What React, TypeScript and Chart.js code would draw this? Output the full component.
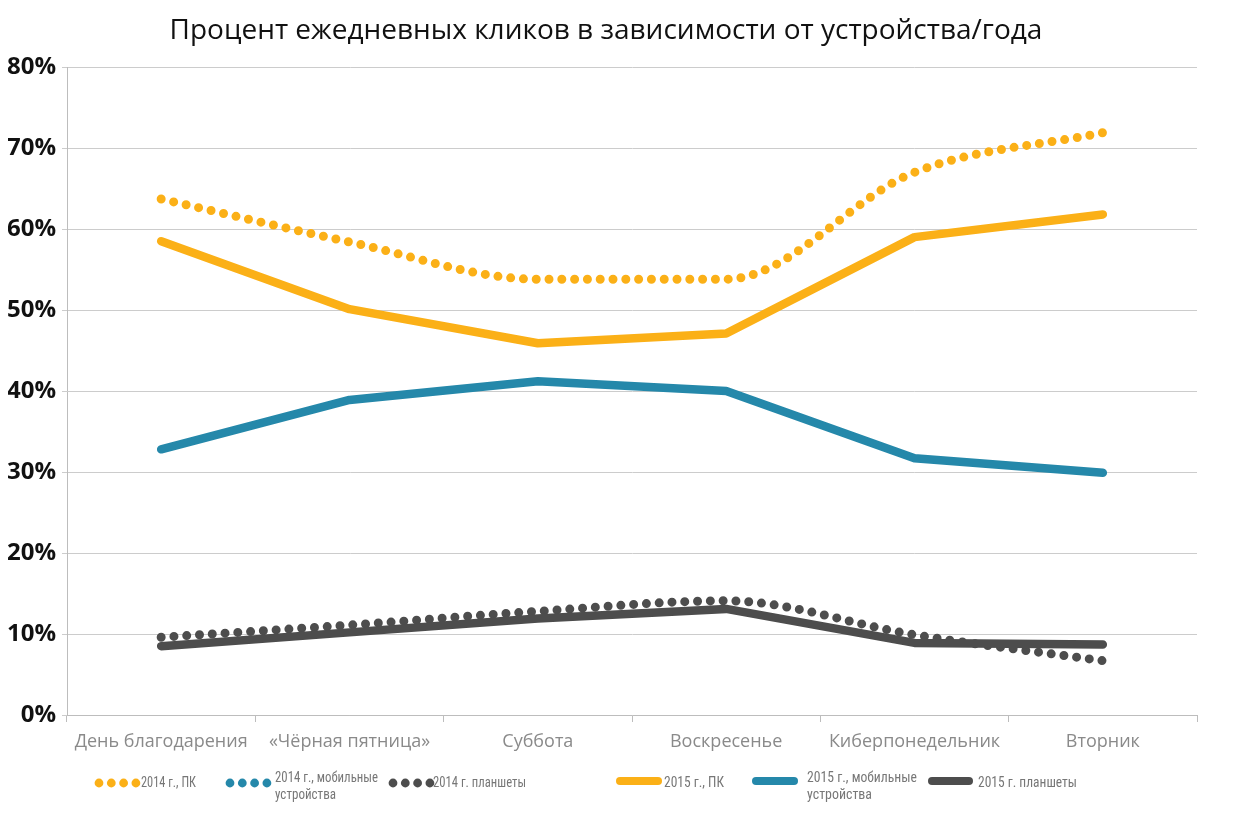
import React, { useEffect, useRef } from "react";
import { Chart, registerables } from "chart.js";

Chart.register(...registerables);

const categories = [
  "День благодарения",
  "«Чёрная пятница»",
  "Суббота",
  "Воскресенье",
  "Киберпонедельник",
  "Вторник",
];

const pc2014 = [63.7, 58.4, 53.8, 53.8, 67.0, 71.9];
const mobile2014: (number | null)[] = [null, null, null, null, null, null];
const tablet2014 = [9.6, 11.1, 12.8, 14.1, 9.9, 6.7];
const pc2015 = [58.5, 50.1, 45.9, 47.1, 59.0, 61.8];
const mobile2015 = [32.8, 38.9, 41.2, 40.0, 31.7, 29.9];
const tablet2015 = [8.5, 10.2, 11.9, 13.1, 8.9, 8.7];

const yTicks = [0, 10, 20, 30, 40, 50, 60, 70, 80];

const title = "Процент ежедневных кликов в зависимости от устройства/года";
const legendLabels = [
  ["2014 г., ПК"],
  ["2014 г., мобильные", "устройства"],
  ["2014 г. планшеты"],
  ["2015 г., ПК"],
  ["2015 г., мобильные", "устройства"],
  ["2015 г. планшеты"],
];

const ORANGE = "#FBB017";
const BLUE = "#2588AA";
const GRAY = "#4D4D4D";

export default function App() {
  const ref = useRef<HTMLCanvasElement | null>(null);

  useEffect(() => {
    if (!ref.current) return;

    const overlay = {
      id: "overlay",
      afterDraw(chart: any) {
        const ctx = chart.ctx as CanvasRenderingContext2D;
        ctx.save();
        // title
        ctx.fillStyle = "#111";
        ctx.font = "400 28px 'Open Sans'";
        ctx.textAlign = "center";
        ctx.textBaseline = "middle";
        ctx.fillText(title, 598, 23);

        // legend
        const colors = [ORANGE, BLUE, GRAY, ORANGE, BLUE, GRAY];
        const items = [
          { kind: "dots", x0: 91, tx: 133, w: [55] },
          { kind: "dots", x0: 222, tx: 267, w: [103, 61] },
          { kind: "dots", x0: 385, tx: 425, w: [93] },
          { kind: "line", x0: 612, x1: 650, tx: 656, w: [60] },
          { kind: "line", x0: 748, x1: 786, tx: 799, w: [110, 65] },
          { kind: "line", x0: 924, x1: 961, tx: 970, w: [99] },
        ];
        items.forEach((it: any, i) => {
          ctx.fillStyle = colors[i];
          ctx.strokeStyle = colors[i];
          if (it.kind === "dots") {
            for (let k = 0; k < 4; k++) {
              ctx.beginPath();
              ctx.arc(it.x0 + k * 12.3, 775, 4.4, 0, Math.PI * 2);
              ctx.fill();
            }
          } else {
            ctx.lineWidth = 8;
            ctx.lineCap = "round";
            ctx.beginPath();
            ctx.moveTo(it.x0, 773);
            ctx.lineTo(it.x1, 773);
            ctx.stroke();
          }
          ctx.fillStyle = "#777";
          ctx.font = "400 15px 'Liberation Sans Narrow', 'Roboto Condensed', Roboto";
          ctx.textAlign = "left";
          ctx.textBaseline = "middle";
          const lines = legendLabels[i];
          if (lines.length === 1) {
            ctx.fillText(lines[0], it.tx, 775, it.w[0]);
          } else {
            ctx.fillText(lines[0], it.tx, 770, it.w[0]);
            ctx.fillText(lines[1], it.tx, 787, it.w[1]);
          }
        });
        ctx.restore();
      },
    };

    const dotted = (label: string, data: (number | null)[], color: string) => ({
      label,
      data,
      borderColor: color,
      backgroundColor: color,
      borderWidth: 9,
      borderDash: [0, 12.8],
      borderCapStyle: "round" as const,
      cubicInterpolationMode: "monotone" as const,
      pointRadius: 0,
      fill: false,
      order: 1,
    });
    const solid = (label: string, data: (number | null)[], color: string) => ({
      label,
      data,
      borderColor: color,
      backgroundColor: color,
      borderWidth: 8.5,
      borderCapStyle: "round" as const,
      borderJoinStyle: "round" as const,
      tension: 0,
      pointRadius: 0,
      fill: false,
      order: 0,
    });

    const chart = new Chart(ref.current, {
      type: "line",
      data: {
        labels: categories,
        datasets: [
          dotted("2014 г., ПК", pc2014, ORANGE),
          dotted("2014 г., мобильные устройства", mobile2014, BLUE),
          dotted("2014 г. планшеты", tablet2014, GRAY),
          solid("2015 г., ПК", pc2015, ORANGE),
          solid("2015 г., мобильные устройства", mobile2015, BLUE),
          solid("2015 г. планшеты", tablet2015, GRAY),
        ],
      },
      options: {
        animation: false,
        responsive: false,
        maintainAspectRatio: false,
        layout: { padding: { top: 59, left: 0, right: 50, bottom: 59 } },
        plugins: {
          legend: { display: false },
          title: { display: false },
          tooltip: { enabled: false },
        },
        scales: {
          x: {
            type: "category",
            offset: true,
            afterFit: (s: any) => {
              s.height = 50;
            },
            grid: {
              offset: true,
              drawOnChartArea: false,
              drawTicks: true,
              tickLength: 7,
              color: "#bdbdbd",
            },
            border: { color: "#bdbdbd", width: 1 },
            ticks: {
              color: "#8a8a8a",
              font: { family: "'Open Sans'", size: 18 },
              padding: 9,
              maxRotation: 0,
              autoSkip: false,
            },
          },
          y: {
            min: 0,
            max: 80,
            afterFit: (s: any) => {
              s.width = 59;
            },
            afterBuildTicks: (s: any) => {
              s.ticks = yTicks.map((v) => ({ value: v }));
            },
            grid: {
              color: "#cccccc",
              lineWidth: 1,
              tickLength: 5,
            },
            border: { color: "#bdbdbd", width: 1 },
            ticks: {
              color: "#111",
              font: { family: "'Open Sans'", size: 24, weight: "bold" },
              padding: 6,
              callback: (v: any) => v + "%",
            },
          },
        },
      },
      plugins: [overlay],
    });
    return () => chart.destroy();
  }, []);

  return <canvas ref={ref} width={1239} height={816} style={{ display: "block" }} />;
}
